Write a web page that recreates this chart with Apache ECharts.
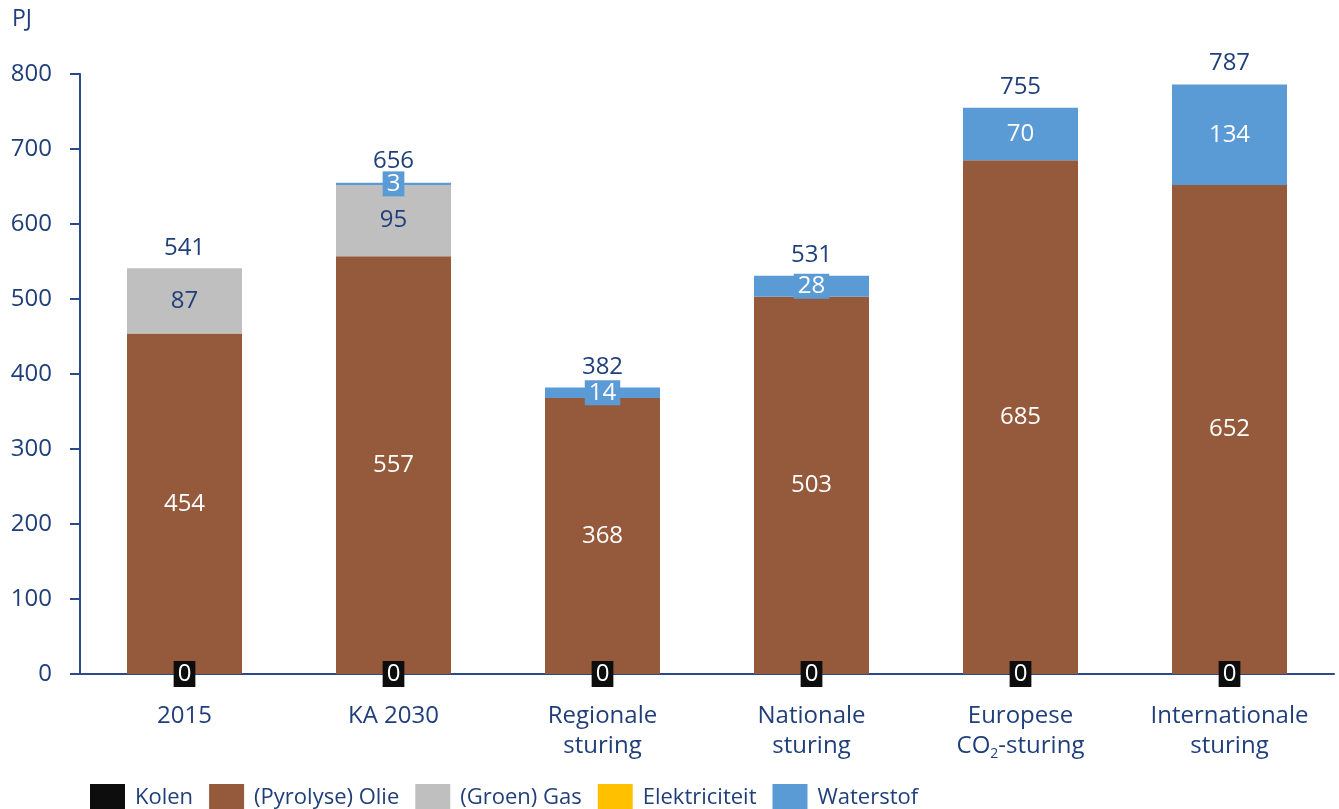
<!DOCTYPE html>
<html>
<head>
<meta charset="utf-8">
<script src="https://cdn.jsdelivr.net/npm/echarts@6/dist/echarts.min.js"></script>
<style>
  html, body { margin: 0; padding: 0; background: #fff; }
  #main { width: 1339px; height: 809px; }
</style>
</head>
<body>
<div id="main"></div>
<script>
  // categorieën en waarden (PJ)
  var categories = ['2015', 'KA 2030', 'Regionale\nsturing', 'Nationale\nsturing', 'Europese\nCO{sub|2}-sturing', 'Internationale\nsturing'];
  var kolen = [0, 0, 0, 0, 0, 0];
  var olie = [454, 557, 368, 503, 685, 652];
  var gas = [87, 95, 0, 0, 0, 0];
  var elektriciteit = [0, 0, 0, 0, 0, 0];
  var waterstof = [0, 3, 14, 28, 70, 134];
  var totals = [541, 656, 382, 531, 755, 787];
  var yTicks = [0, 100, 200, 300, 400, 500, 600, 700, 800];

  var navy = '#203f7a';
  var font = '"Open Sans", "Noto Sans", sans-serif';

  // nul-waarden zonder label
  function hideZero(arr) {
    return arr.map(function (v) {
      return v === 0 ? { value: v, label: { show: false } } : v;
    });
  }

  var myChart = echarts.init(document.getElementById('main'));
  myChart.setOption({
    backgroundColor: '#fff',
    animation: false,
    textStyle: { fontFamily: font },
    graphic: [{
      type: 'text', left: 12, top: 8,
      style: { text: 'PJ', font: '23px ' + font, fill: navy }
    }],
    grid: { left: 80, right: 5, top: 74, bottom: 135 },
    legend: {
      left: 85, top: 779,
      itemWidth: 35, itemHeight: 27, itemGap: 16,
      icon: 'rect',
      textStyle: { fontSize: 22, color: navy, fontFamily: font, padding: [0, 0, 0, 5] },
      data: ['Kolen', '(Pyrolyse) Olie', '(Groen) Gas', 'Elektriciteit', 'Waterstof']
    },
    xAxis: {
      type: 'category',
      data: categories,
      axisLine: { lineStyle: { color: '#2b4a8b', width: 2 } },
      axisTick: { show: false },
      axisLabel: {
        fontSize: 24, color: navy, lineHeight: 30, margin: 27, interval: 0,
        rich: {
          sub: { fontSize: 14, color: navy, verticalAlign: 'bottom', padding: [14, 0, 0, 0] }
        }
      }
    },
    yAxis: {
      type: 'value',
      min: yTicks[0], max: yTicks[yTicks.length - 1], interval: 100,
      axisLine: { show: true, lineStyle: { color: '#2b4a8b', width: 2 } },
      axisTick: { show: true, inside: false, length: 10, lineStyle: { color: '#2b4a8b', width: 2 } },
      splitLine: { show: false },
      axisLabel: { fontSize: 24, color: navy, margin: 28 }
    },
    series: [
      {
        name: 'Kolen', type: 'bar', stack: 'totaal', barWidth: 115,
        itemStyle: { color: '#0d0d0d' },
        label: {
          show: true, position: 'inside', color: '#fff', fontSize: 24,
          backgroundColor: '#0d0d0d', padding: [2, 4, 0, 4]
        },
        data: kolen
      },
      {
        name: '(Pyrolyse) Olie', type: 'bar', stack: 'totaal',
        itemStyle: { color: '#955a3c' },
        label: { show: true, position: 'inside', color: '#fff', fontSize: 24 },
        data: hideZero(olie)
      },
      {
        name: '(Groen) Gas', type: 'bar', stack: 'totaal',
        itemStyle: { color: '#bfbfbf' },
        label: { show: true, position: 'inside', color: navy, fontSize: 24 },
        data: hideZero(gas)
      },
      {
        name: 'Elektriciteit', type: 'bar', stack: 'totaal',
        itemStyle: { color: '#ffc000' },
        label: { show: true, position: 'inside', color: navy, fontSize: 24 },
        data: hideZero(elektriciteit)
      },
      {
        name: 'Waterstof', type: 'bar', stack: 'totaal',
        itemStyle: { color: '#5b9bd5' },
        label: {
          show: true, position: 'inside', color: '#fff', fontSize: 24,
          backgroundColor: '#5b9bd5', padding: [1, 4, 0, 4]
        },
        data: hideZero(waterstof)
      },
      {
        // totalen boven de staven
        name: 'Totaal', type: 'scatter', symbolSize: 1,
        itemStyle: { color: 'rgba(0,0,0,0)', opacity: 1 },
        label: {
          show: true, position: 'top', distance: 8, color: navy, fontSize: 24
        },
        data: totals,
        z: 5
      }
    ]
  });
</script>
</body>
</html>
